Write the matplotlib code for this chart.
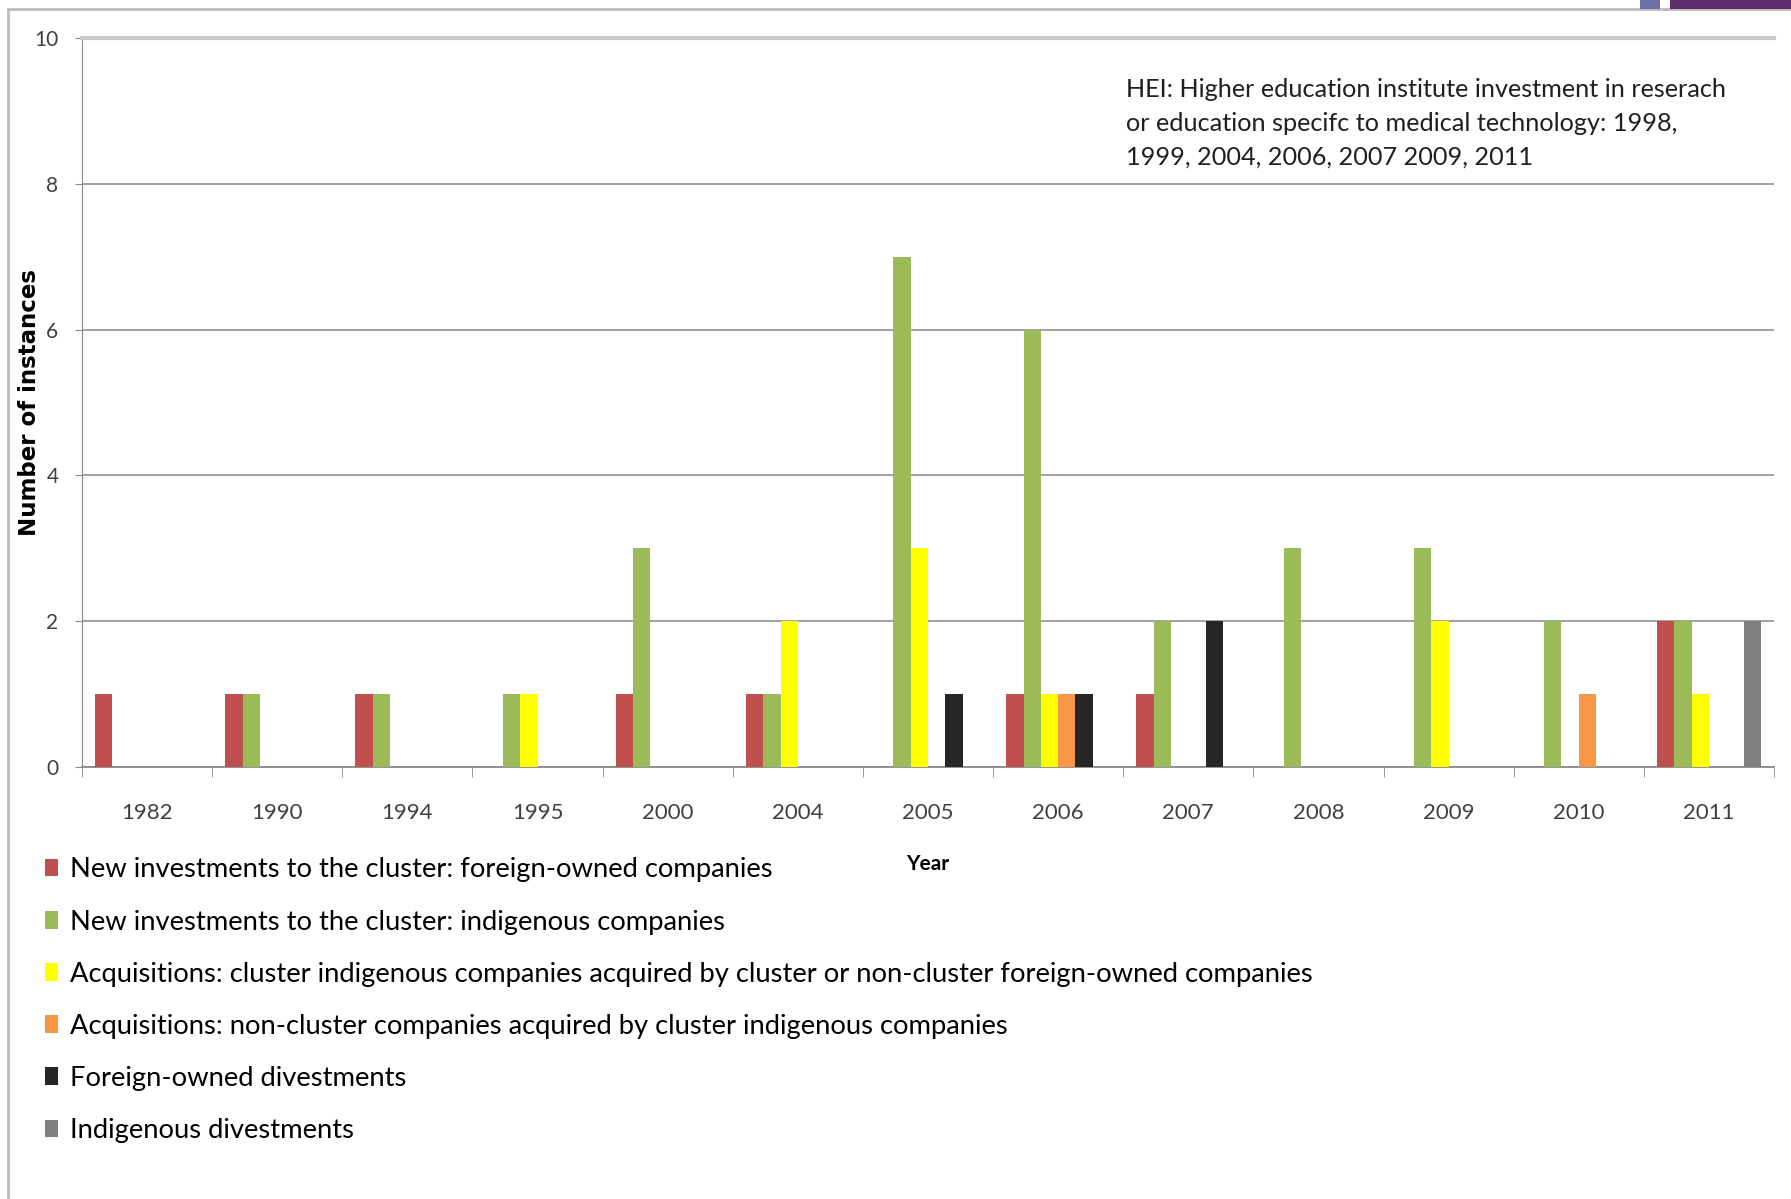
import matplotlib
matplotlib.use("Agg")
import matplotlib.pyplot as plt
from matplotlib.patches import Rectangle
import numpy as np

plt.rcParams['font.family'] = ['Lato', 'DejaVu Sans']

years = ["1982", "1990", "1994", "1995", "2000", "2004", "2005",
         "2006", "2007", "2008", "2009", "2010", "2011"]

series_names = [
    "New investments to the cluster: foreign-owned companies",
    "New investments to the cluster: indigenous companies",
    "Acquisitions: cluster indigenous companies acquired by cluster or non-cluster foreign-owned companies",
    "Acquisitions: non-cluster companies acquired by cluster indigenous companies",
    "Foreign-owned divestments",
    "Indigenous divestments",
]
series_colors = ["#C0504D", "#9BBB59", "#FFFF00", "#F79646", "#262626", "#7F7F7F"]

foreign_new = [1, 1, 1, 0, 1, 1, 0, 1, 1, 0, 0, 0, 2]
indigenous_new = [0, 1, 1, 1, 3, 1, 7, 6, 2, 3, 3, 2, 2]
acq_indigenous = [0, 0, 0, 1, 0, 2, 3, 1, 0, 0, 2, 0, 1]
acq_noncluster = [0, 0, 0, 0, 0, 0, 0, 1, 0, 0, 0, 1, 0]
foreign_div = [0, 0, 0, 0, 0, 0, 1, 1, 2, 0, 0, 0, 0]
indigenous_div = [0, 0, 0, 0, 0, 0, 0, 0, 0, 0, 0, 0, 2]

hei_note = ("HEI: Higher education institute investment in reserach\n"
            "or education specifc to medical technology: 1998,\n"
            "1999, 2004, 2006, 2007 2009, 2011")

values = [foreign_new, indigenous_new, acq_indigenous,
          acq_noncluster, foreign_div, indigenous_div]

fig = plt.figure(figsize=(17.91, 11.99), dpi=100)
ax = fig.add_axes([0.0458, 0.3603, 0.9447, 0.6080])

x = np.arange(len(years))
w = 0.133
handles = []
for i, (vals, col) in enumerate(zip(values, series_colors)):
    b = ax.bar(x + (i - 2.5) * w, vals, width=w, color=col, zorder=3)
    handles.append(b)

ax.set_xlim(-0.5, len(years) - 0.5)
ax.set_ylim(0, 10)
ax.set_yticks(range(0, 11, 2))
ax.yaxis.grid(True, color="#9a9a9a", linewidth=1.3, zorder=0)
ax.set_axisbelow(True)

ax.spines["right"].set_visible(False)
ax.spines["top"].set_color("#c8c8c8")
ax.spines["top"].set_linewidth(3)
ax.spines["left"].set_color("#8a8a8a")
ax.spines["bottom"].set_color("#8a8a8a")
ax.spines["bottom"].set_linewidth(1.3)

ax.set_xticks(x)
ax.set_xticklabels(years)
ax.set_xticks(np.arange(-0.5, len(years)), minor=True)
ax.tick_params(axis="x", which="major", length=0, pad=26, labelsize=16, labelcolor="#404040")
ax.tick_params(axis="x", which="minor", length=7, color="#8a8a8a")
ax.tick_params(axis="y", length=5, color="#8a8a8a", pad=12, labelsize=15, labelcolor="#404040")

ax.set_ylabel("Number of instances", fontsize=16.5, fontweight="bold", family="DejaVu Sans")
ax.yaxis.set_label_coords(-0.0243, 0.50)

fig.text(0.518, 0.279, "Year", fontsize=15, fontweight="bold", ha="center", va="center")

fig.text(0.6288, 0.935, hei_note, fontsize=18.2, ha="left", va="top",
         linespacing=1.58, color="#202020")

fig.legend(handles, series_names, loc="upper left", bbox_to_anchor=(0.0192, 0.294),
           frameon=False, fontsize=19.7, handlelength=0.45, handleheight=0.6,
           handletextpad=0.45, labelspacing=0.99, borderaxespad=0)

# slide frame and decoration
fig.add_artist(Rectangle((0.0045, -0.1), 1.2, 1.0924, transform=fig.transFigure,
                         fill=False, edgecolor="#bcbcbc", linewidth=2))
fig.add_artist(Rectangle((0.9157, 0.9924), 0.0112, 0.01, transform=fig.transFigure,
                         color="#6b6fa8", linewidth=0))
fig.add_artist(Rectangle((0.9325, 0.9924), 0.07, 0.01, transform=fig.transFigure,
                         color="#5e2d6b", linewidth=0))

fig.savefig("out.png", dpi=100)
